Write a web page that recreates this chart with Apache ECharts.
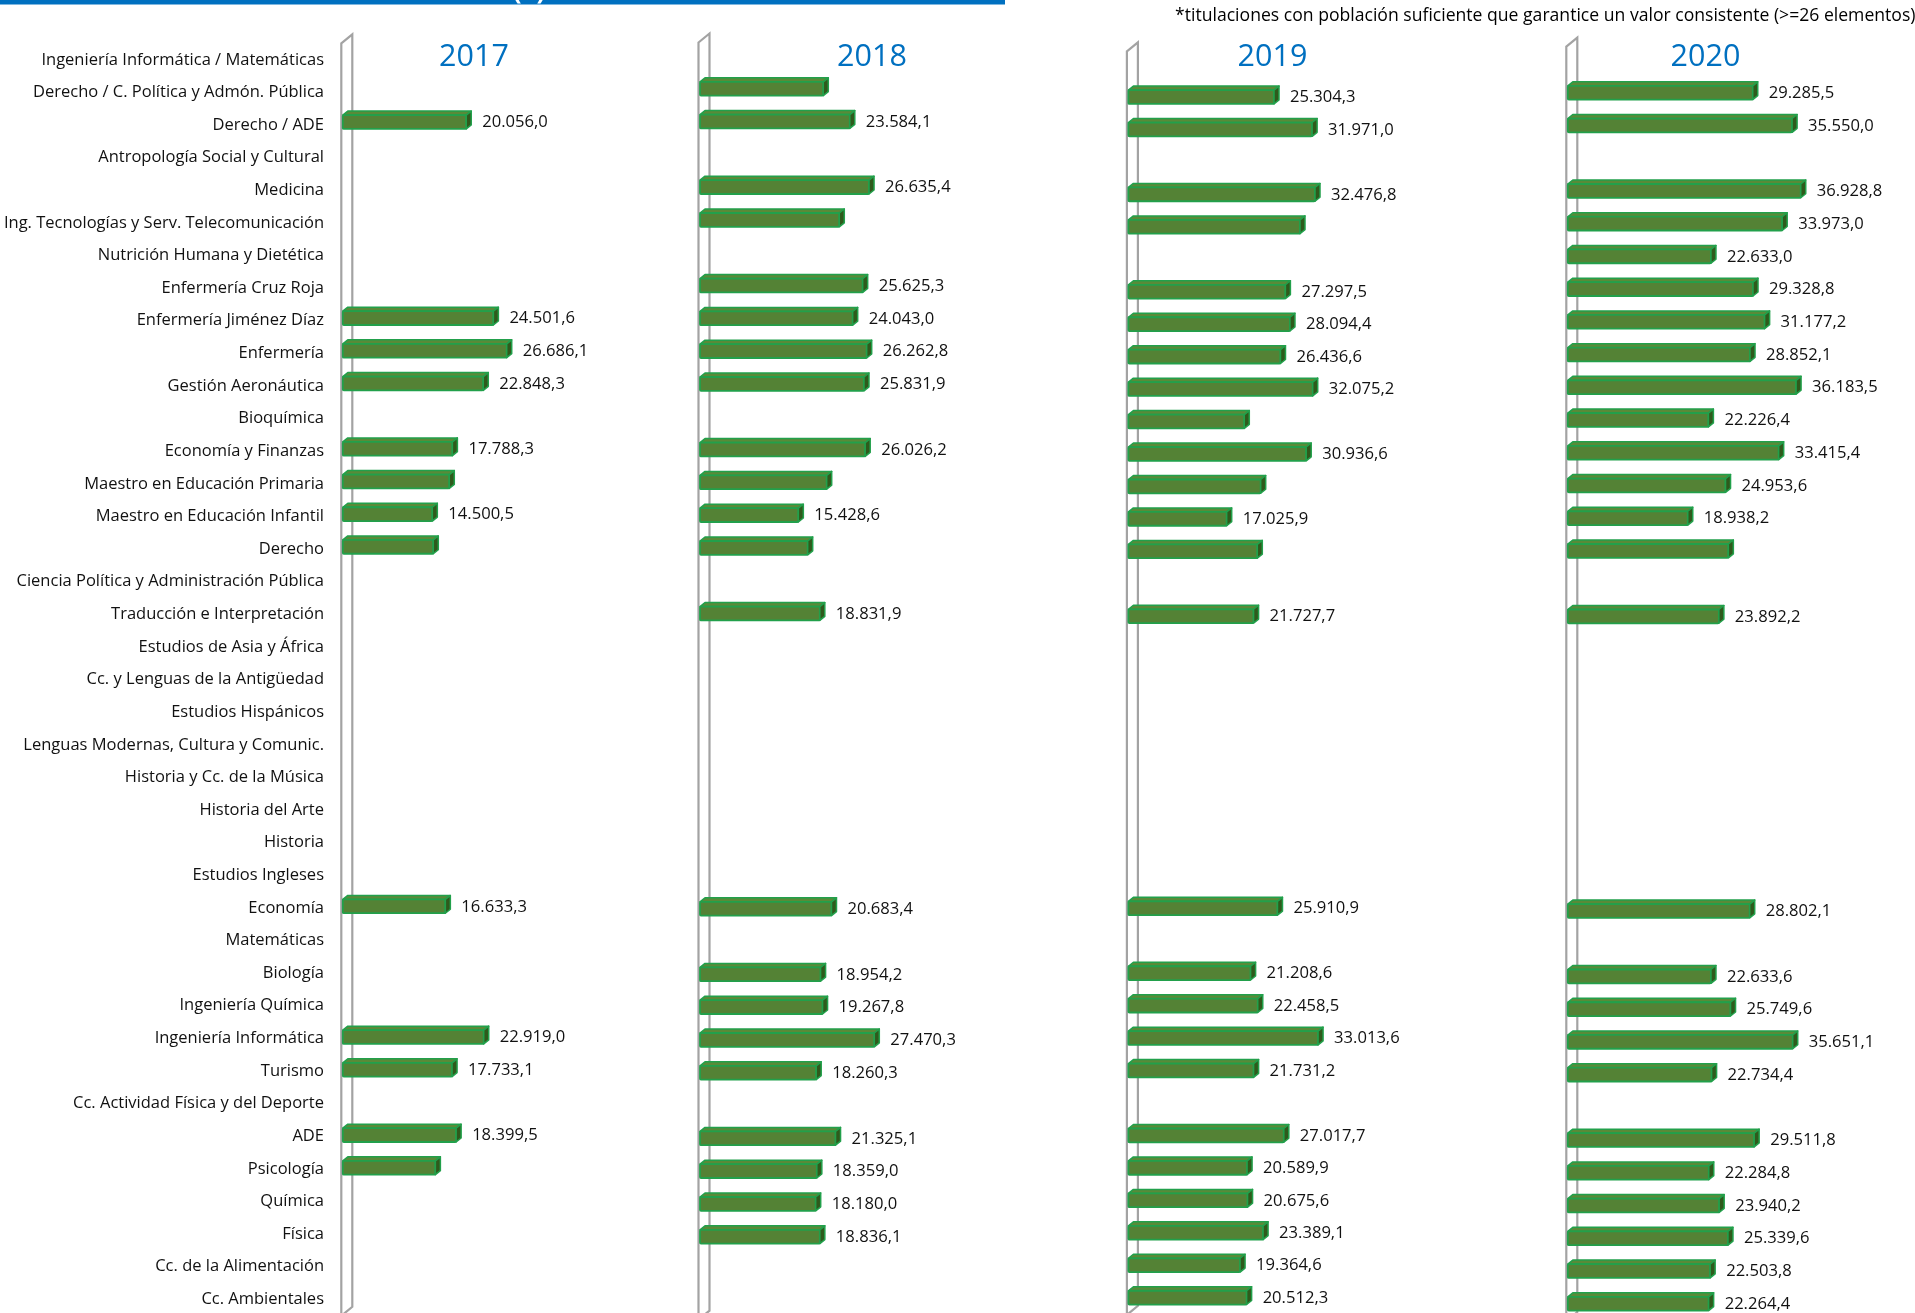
<!DOCTYPE html>
<html>
<head>
<meta charset="utf-8">
<script src="https://cdn.jsdelivr.net/npm/echarts@6/dist/echarts.min.js"></script>
<style>
  html, body { margin: 0; padding: 0; background: #ffffff; overflow: hidden; }
  #chart { width: 1915px; height: 1345px; }
</style>
</head>
<body>
<div id="chart"></div>
<script>
// ---------------- DATA ----------------
const CATEGORIES = [
  'Ingeniería Informática / Matemáticas',
  'Derecho / C. Política y Admón. Pública',
  'Derecho / ADE',
  'Antropología Social y Cultural',
  'Medicina',
  'Ing. Tecnologías y Serv. Telecomunicación',
  'Nutrición Humana y Dietética',
  'Enfermería Cruz Roja',
  'Enfermería Jiménez Díaz',
  'Enfermería',
  'Gestión Aeronáutica',
  'Bioquímica',
  'Economía y Finanzas',
  'Maestro en Educación Primaria',
  'Maestro en Educación Infantil',
  'Derecho',
  'Ciencia Política y Administración Pública',
  'Traducción e Interpretación',
  'Estudios de Asia y África',
  'Cc. y Lenguas de la Antigüedad',
  'Estudios Hispánicos',
  'Lenguas Modernas, Cultura y Comunic.',
  'Historia y Cc. de la Música',
  'Historia del Arte',
  'Historia',
  'Estudios Ingleses',
  'Economía',
  'Matemáticas',
  'Biología',
  'Ingeniería Química',
  'Ingeniería Informática',
  'Turismo',
  'Cc. Actividad Física y del Deporte',
  'ADE',
  'Psicología',
  'Química',
  'Física',
  'Cc. de la Alimentación',
  'Cc. Ambientales'
];

const YEARS = ['2017', '2018', '2019', '2020'];

const VALUES_2017 = [
  null, null, 20056.0, null, null, null, null, null, 24501.6, 26686.1,
  22848.3, null, 17788.3, 17280, 14500.5, 14660, null, null, null, null,
  null, null, null, null, null, null, 16633.3, null, null, null,
  22919.0, 17733.1, null, 18399.5, 15000, null, null, null, null
];
const VALUES_2018 = [
  null, 19385, 23584.1, null, 26635.4, 21920, null, 25625.3, 24043.0, 26262.8,
  25831.9, null, 26026.2, 19924, 15428.6, 16912, null, 18831.9, null, null,
  null, null, null, null, null, null, 20683.4, null, 18954.2, 19267.8,
  27470.3, 18260.3, null, 21325.1, 18359.0, 18180.0, 18836.1, null, null
];
const VALUES_2019 = [
  null, 25304.3, 31971.0, null, 32476.8, 29851, null, 27297.5, 28094.4, 26436.6,
  32075.2, 20105, 30936.6, 22975, 17025.9, 22380, null, 21727.7, null, null,
  null, null, null, null, null, null, 25910.9, null, 21208.6, 22458.5,
  33013.6, 21731.2, null, 27017.7, 20589.9, 20675.6, 23389.1, 19364.6, 20512.3
];
const VALUES_2020 = [
  null, 29285.5, 35550.0, null, 36928.8, 33973.0, 22633.0, 29328.8, 31177.2, 28852.1,
  36183.5, 22226.4, 33415.4, 24953.6, 18938.2, 25402, null, 23892.2, null, null,
  null, null, null, null, null, null, 28802.1, null, 22633.6, 25749.6,
  35651.1, 22734.4, null, 29511.8, 22284.8, 23940.2, 25339.6, 22503.8, 22264.4
];
// bars drawn without a value label (category indices)
const NOLABEL_2017 = [13, 15, 34];
const NOLABEL_2018 = [1, 5, 13, 15];
const NOLABEL_2019 = [5, 11, 13, 15];
const NOLABEL_2020 = [15];

const FOOTNOTE = '*titulaciones con población suficiente que garantice un valor consistente (>=26 elementos)';

// ---------------- LAYOUT / STYLE ----------------
const W = 1915, H = 1345;
const XMAX = 50000;
const PANELS = [
  { values: VALUES_2017, nolabel: NOLABEL_2017, zeroX: 348.8,  scale: 0.006105, top: 38.3, rowH: 32.68, titleX: 474 },
  { values: VALUES_2018, nolabel: NOLABEL_2018, zeroX: 706.0,  scale: 0.006309, top: 37.5, rowH: 32.80, titleX: 872 },
  { values: VALUES_2019, nolabel: NOLABEL_2019, zeroX: 1134.4, scale: 0.005715, top: 46.3, rowH: 32.45, titleX: 1272.5 },
  { values: VALUES_2020, nolabel: NOLABEL_2020, zeroX: 1573.8, scale: 0.006281, top: 41.6, rowH: 32.73, titleX: 1705.5 }
];
const LABEL_GRID = { top: 43.5, rowH: 32.62 };

const FONT = '"Open Sans", "Liberation Sans", sans-serif';
const FRONT = '#548235';
const TOPF = '#5a8a38';
const SIDE = '#2f5a1c';
const EDGE = '#22a04b';
const WALL = '#a3a3a3';
const BAR_H = 17.8, DX = 5, DY = 4, FRONT_OFFSET = 6;

function fmt(v) {
  const parts = v.toFixed(1).split('.');
  return parts[0].replace(/\B(?=(\d{3})+(?!\d))/g, '.') + ',' + parts[1];
}

function renderBar(params, api) {
  const v = api.value(0), idx = api.value(1), show = api.value(2);
  const end = api.coord([v, idx]);
  const zero = api.coord([0, idx]);
  const x0 = zero[0] - FRONT_OFFSET;
  const x1 = end[0];
  const yc = end[1];
  const top = yc - BAR_H / 2, bot = yc + BAR_H / 2;
  const children = [
    { type: 'polygon', shape: { points: [[x0, top + DY], [x0 + DX, top], [x1, top], [x1 - DX, top + DY]] },
      style: { fill: TOPF, stroke: EDGE, lineWidth: 1.5, lineJoin: 'round' } },
    { type: 'rect', shape: { x: x0, y: top + DY, width: x1 - DX - x0, height: bot - top - DY, r: 1 },
      style: { fill: FRONT, stroke: EDGE, lineWidth: 1.8 } },
    { type: 'polygon', shape: { points: [[x1 - DX, top + DY], [x1, top], [x1, bot - DY], [x1 - DX, bot]] },
      style: { fill: SIDE, stroke: EDGE, lineWidth: 1.5, lineJoin: 'round' } }
  ];
  if (show) {
    children.push({ type: 'text', style: { text: fmt(v), x: x1 + 11, y: yc + 2.5, verticalAlign: 'middle', align: 'left',
      font: '16.6px ' + FONT, fill: '#111111' } });
  }
  return { type: 'group', children: children };
}

const grids = [], xAxes = [], yAxes = [], series = [], graphics = [];

PANELS.forEach(function (p, i) {
  const height = p.rowH * CATEGORIES.length;
  grids.push({ left: p.zeroX, top: p.top, width: XMAX * p.scale, height: height, containLabel: false });
  xAxes.push({ type: 'value', gridIndex: i, min: 0, max: XMAX, show: false });
  yAxes.push({ type: 'category', gridIndex: i, data: CATEGORIES, inverse: true, show: false });
  const data = [];
  p.values.forEach(function (v, idx) {
    if (v !== null) data.push([v, idx, p.nolabel.indexOf(idx) >= 0 ? 0 : 1]);
  });
  series.push({ type: 'custom', xAxisIndex: i, yAxisIndex: i, renderItem: renderBar, data: data,
    encode: { x: 0, y: 1 }, z: 5, clip: false, silent: true });

  // 3D wall at the axis
  const L = p.zeroX - FRONT_OFFSET - 1.5, R = L + 11;
  const gTop = p.top, gBot = p.top + height;
  graphics.push({ type: 'polygon', z: 0,
    shape: { points: [[L, gTop + 5], [R, gTop - 4], [R, gBot - 6], [L, gBot + 3]] },
    style: { fill: '#ffffff', stroke: WALL, lineWidth: 2.2 } });
  // year title
  graphics.push({ type: 'text', z: 10, x: p.titleX, y: 57.5,
    style: { text: YEARS[i], align: 'center', verticalAlign: 'middle', font: '30.5px ' + FONT, fill: '#0070C0' } });
});

// category labels grid
grids.push({ left: 330, top: LABEL_GRID.top, width: 5, height: LABEL_GRID.rowH * CATEGORIES.length });
xAxes.push({ type: 'value', gridIndex: 4, show: false });
yAxes.push({ type: 'category', gridIndex: 4, data: CATEGORIES, inverse: true,
  axisLine: { show: false }, axisTick: { show: false },
  axisLabel: { interval: 0, margin: 6, fontFamily: FONT, fontSize: 16.5, color: '#111111' } });

// header band + footnote
graphics.push({ type: 'rect', z: 1, shape: { x: 0, y: 0, width: 1005, height: 4.5 }, style: { fill: '#0070C0' } });
graphics.push({ type: 'text', z: 2, x: 529, y: 5, style: { text: '(€)', align: 'center', verticalAlign: 'bottom',
  font: 'bold 26px ' + FONT, fill: '#ffffff' } });
graphics.push({ type: 'text', z: 2, x: 1175, y: 15.5, style: { text: FOOTNOTE, align: 'left', verticalAlign: 'middle',
  font: '17.6px ' + FONT, fill: '#000000' } });

const chart = echarts.init(document.getElementById('chart'), null, { renderer: 'canvas', width: W, height: H });
chart.setOption({
  animation: false,
  backgroundColor: '#ffffff',
  grid: grids,
  xAxis: xAxes,
  yAxis: yAxes,
  series: series,
  graphic: graphics
});
</script>
</body>
</html>
